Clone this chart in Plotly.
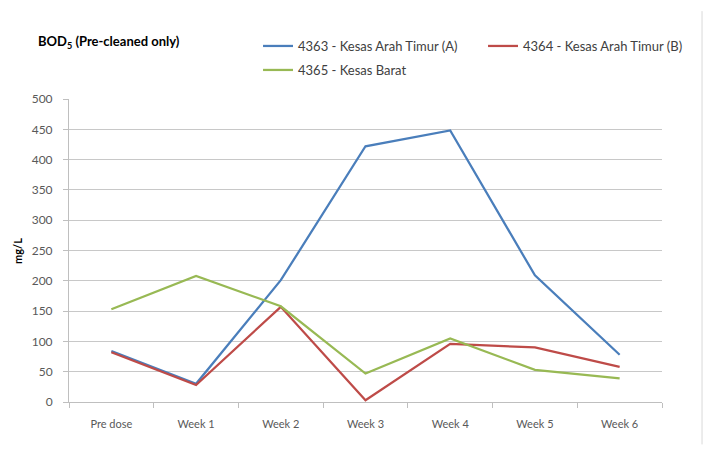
import plotly.graph_objects as go

# Sampling periods
categories = ["Pre dose", "Week 1", "Week 2", "Week 3", "Week 4", "Week 5", "Week 6"]

# BOD5 concentrations (mg/L) per station
timur_a = [84, 30, 201, 422, 448, 209, 78]
timur_b = [82, 28, 157, 3, 96, 90, 58]
barat = [153, 208, 158, 47, 105, 53, 39]

series_names = [
    "4363 - Kesas Arah Timur (A)",
    "4364 - Kesas Arah Timur (B)",
    "4365 - Kesas Barat",
]
series_colors = ["#4A7EBB", "#BE4B48", "#98B954"]
# first two stations share the top legend row, the third sits below
series_legends = ["legend", "legend", "legend2"]

y_ticks = [0, 50, 100, 150, 200, 250, 300, 350, 400, 450, 500]

FONT = "Lato"
TEXT_GRAY = "#595959"

fig = go.Figure()
for name, values, color, lg in zip(series_names, [timur_a, timur_b, barat],
                                   series_colors, series_legends):
    fig.add_trace(go.Scatter(
        x=categories, y=values, name=name, mode="lines",
        line=dict(color=color, width=2.25), legend=lg,
    ))

legend_style = dict(
    orientation="h",
    xref="container", yref="container",
    x=0.366, xanchor="left", yanchor="middle",
    font=dict(family=FONT, size=13, color="#404040"),
    entrywidth=180, entrywidthmode="pixels",
    itemwidth=30,
    bgcolor="rgba(0,0,0,0)",
)

fig.update_layout(
    width=705, height=464,
    margin=dict(l=69, r=43, t=99, b=62, autoexpand=False),
    paper_bgcolor="white", plot_bgcolor="white",
    font=dict(family=FONT, size=11, color=TEXT_GRAY),
    showlegend=True,
    legend=dict(legend_style, y=1 - 46 / 464),
    legend2=dict(legend_style, y=1 - 70 / 464),
    xaxis=dict(
        type="category", range=[-0.5, 6.5],
        showgrid=False, showline=True, linecolor="#BFBFBF", linewidth=1,
        ticks="outside", ticklen=5, tickcolor="#BFBFBF",
        tickson="boundaries", ticklabelstandoff=12,
        tickfont=dict(family=FONT, size=11, color=TEXT_GRAY),
    ),
    yaxis=dict(
        range=[0, 500], tickvals=y_ticks,
        showgrid=True, gridcolor="#C8C8C8", gridwidth=1,
        showline=True, linecolor="#BFBFBF", linewidth=1,
        ticks="outside", ticklen=5, tickcolor="#BFBFBF",
        ticklabelstandoff=8,
        tickfont=dict(family=FONT, size=12, color=TEXT_GRAY),
        zeroline=False,
    ),
)

# Chart title
fig.add_annotation(
    text="<b>BOD<sub>5</sub> (Pre-cleaned only)</b>",
    xref="paper", yref="paper", x=-0.055, y=1.188,
    xanchor="left", yanchor="middle", showarrow=False,
    font=dict(family=FONT, size=13, color="black"),
)

# Y-axis title
fig.add_annotation(
    text="<b>mg/L</b>", textangle=-90,
    xref="paper", yref="paper", x=-0.087, y=0.5,
    xanchor="center", yanchor="middle", showarrow=False,
    font=dict(family=FONT, size=11, color="black"),
)

# Chart area border on the right
fig.add_shape(
    type="line", xref="paper", yref="paper",
    x0=1.0675, x1=1.0675, y0=-0.14, y1=1.29,
    line=dict(color="#D9D9D9", width=1),
)

fig.write_html("out.html")
